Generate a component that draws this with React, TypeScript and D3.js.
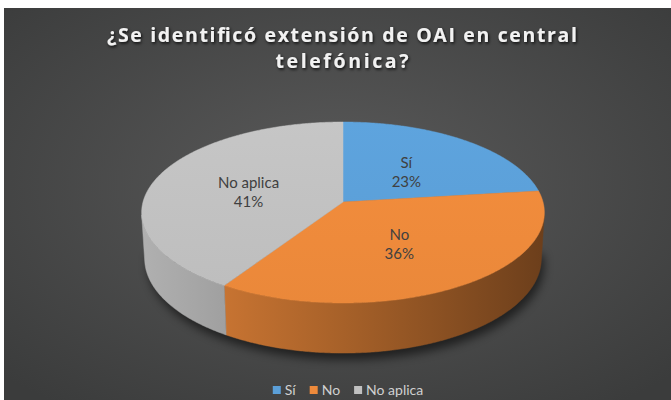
import React, { useEffect, useRef } from "react";
import * as d3 from "d3";

const categories = ["Sí", "No", "No aplica"];
const values = [23, 36, 41];
const labels = ["23%", "36%", "41%"];
const colors = ["#5b9fd8", "#ee8a3b", "#c0c0c0"];
const titleLines = ["¿Se identificó extensión de OAI en central", "telefónica?"];

export default function App() {
  const ref = useRef<SVGSVGElement>(null);

  useEffect(() => {
    const svg = d3.select(ref.current);
    svg.selectAll("*").remove();
    const W = 671, Hh = 400;
    const defs = svg.append("defs");

    // background
    const bg = defs.append("radialGradient").attr("id", "bg").attr("cx", "50%").attr("cy", "45%").attr("r", "70%");
    bg.append("stop").attr("offset", "0%").attr("stop-color", "#5a5a5a");
    bg.append("stop").attr("offset", "100%").attr("stop-color", "#3b3c3c");
    svg.append("rect").attr("x", 0).attr("y", 0).attr("width", W).attr("height", Hh).attr("fill", "#ffffff");
    svg.append("rect").attr("x", 4).attr("y", 8).attr("width", W - 4).attr("height", Hh - 8).attr("fill", "url(#bg)");

    const ts = defs.append("filter").attr("id", "tshadow").attr("x", "-10%").attr("y", "-30%").attr("width", "120%").attr("height", "160%");
    ts.append("feDropShadow").attr("dx", 1).attr("dy", 1.5).attr("stdDeviation", 1.5).attr("flood-color", "#000").attr("flood-opacity", 0.85);
    const blur = defs.append("filter").attr("id", "blur").attr("x", "-20%").attr("y", "-40%").attr("width", "140%").attr("height", "180%");
    blur.append("feGaussianBlur").attr("stdDeviation", 5);

    // projection
    const cx = 343, cy = 202, f = 1542, Dist = 7.71, sinE = 0.4464, cosE = 0.8948, depthH = 0.26;
    const project = (theta: number, rho: number, Y: number): [number, number] => {
      const X = rho * Math.sin(theta);
      const Z = -rho * Math.cos(theta);
      const up = Y * cosE - Z * sinE;
      const dep = Y * sinE + Z * cosE;
      const s = f / (Dist - dep);
      return [cx + X * s, cy - up * s];
    };
    const ring = (a0: number, a1: number, rho: number, Y: number) => {
      const n = Math.max(2, Math.ceil(Math.abs(a1 - a0) / (Math.PI / 360)));
      return d3.range(n + 1).map((i) => project(a0 + ((a1 - a0) * i) / n, rho, Y));
    };
    const line = d3.line();

    const arcs = d3.pie<number>().sort(null).value((d) => d).startAngle(0).endAngle(2 * Math.PI)(values);

    // shadow under pie
    svg.append("path")
      .attr("d", line(ring(Math.PI / 2, (3 * Math.PI) / 2, 1.0, -depthH - 0.02)) + "Z")
      .attr("fill", "#000").attr("opacity", 0.55).attr("filter", "url(#blur)")
      .attr("transform", "translate(3,3)");

    // visible side range
    const cMin = -1 / (Dist * cosE);
    const vis0 = Math.acos(cMin), vis1 = 2 * Math.PI - vis0;
    const xL = cx - 205, xR = cx + 205;
    const shade = [[0, 0.92], [0.2, 0.84], [0.5, 0.7], [1, 0.45]];

    arcs.forEach((a, i) => {
      const g = defs.append("linearGradient").attr("id", "side" + i).attr("gradientUnits", "userSpaceOnUse")
        .attr("x1", xL).attr("y1", 0).attr("x2", xR).attr("y2", 0);
      const base = d3.rgb(colors[i]);
      shade.forEach(([o, k]) => {
        g.append("stop").attr("offset", o).attr("stop-color", d3.rgb(base.r * k, base.g * k, base.b * k).formatHex());
      });
      const tg = defs.append("linearGradient").attr("id", "top" + i).attr("gradientUnits", "userSpaceOnUse")
        .attr("x1", 0).attr("y1", 120).attr("x2", 0).attr("y2", 305);
      tg.append("stop").attr("offset", 0).attr("stop-color", d3.rgb(base).brighter(0.08).formatHex());
      tg.append("stop").attr("offset", 1).attr("stop-color", d3.rgb(base).darker(0.05).formatHex());
    });

    // sides
    arcs.forEach((a, i) => {
      const b0 = Math.max(a.startAngle, vis0), b1 = Math.min(a.endAngle, vis1);
      if (b1 <= b0) return;
      const pts = ring(b0, b1, 1, 0).concat(ring(b1, b0, 1, -depthH));
      svg.append("path").attr("d", line(pts) + "Z").attr("fill", `url(#side${i})`)
        .attr("stroke", `url(#side${i})`).attr("stroke-width", 0.5);
    });

    // tops
    arcs.forEach((a, i) => {
      const pts = [project(0, 0, 0)].concat(ring(a.startAngle, a.endAngle, 1, 0));
      svg.append("path").attr("d", line(pts) + "Z").attr("fill", `url(#top${i})`)
        .attr("stroke", `url(#top${i})`).attr("stroke-width", 0.5);
    });

    // labels
    arcs.forEach((a, i) => {
      const mid = (a.startAngle + a.endAngle) / 2;
      const [lx, ly] = project(mid, 0.5, 0);
      const t = svg.append("text").attr("text-anchor", "middle").attr("font-family", "Lato, 'Open Sans', sans-serif")
        .attr("font-size", 15).attr("fill", "#404040");
      t.append("tspan").attr("x", lx).attr("y", ly - 2).text(categories[i]);
      t.append("tspan").attr("x", lx).attr("y", ly + 17).text(labels[i]);
    });

    // title
    const tw = [470, 133];
    titleLines.forEach((s, i) => {
      svg.append("text").attr("x", 342).attr("y", 42 + i * 26).attr("text-anchor", "middle")
        .attr("font-family", "'Open Sans', sans-serif").attr("font-weight", "bold").attr("font-size", 19.5)
        .attr("fill", "#f2f2f2").attr("filter", "url(#tshadow)")
        .attr("textLength", tw[i]).attr("lengthAdjust", "spacing").text(s);
    });

    // legend
    const lg = svg.append("g");
    let x = 0;
    categories.forEach((c, i) => {
      lg.append("rect").attr("x", x).attr("y", 386).attr("width", 8).attr("height", 8).attr("fill", colors[i]);
      const t = lg.append("text").attr("x", x + 12).attr("y", 395).attr("font-family", "Lato, sans-serif")
        .attr("font-size", 14).attr("fill", "#d0d0d0").text(c);
      const w = (t.node() as SVGTextElement).getComputedTextLength();
      x += 12 + w + 14;
    });
    const total = x - 14;
    lg.attr("transform", `translate(${348 - total / 2},0)`);
  }, []);

  return <svg ref={ref} width={671} height={400} style={{ position: "absolute", left: 0, top: 0 }} />;
}
